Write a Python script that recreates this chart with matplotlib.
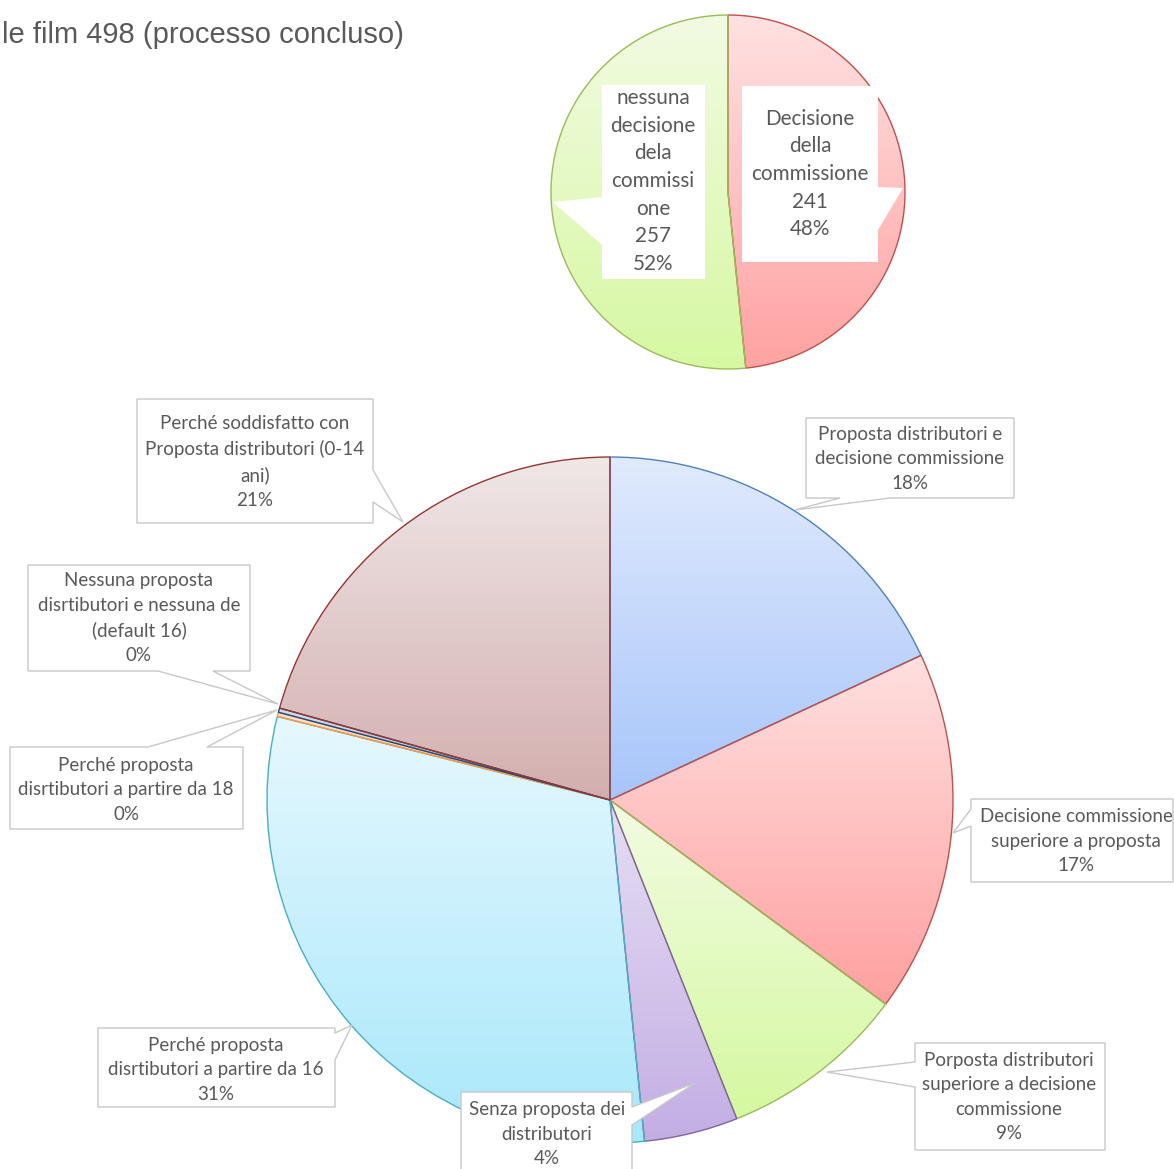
import numpy as np
import matplotlib.pyplot as plt
from matplotlib.colors import LinearSegmentedColormap
from matplotlib.patches import Polygon

# dati
titolo = "le film 498 (processo concluso)"

top_labels = ["Decisione\ndella\ncommissione", "nessuna\ndecisione\ndela\ncommissi\none"]
top_values = [241, 257]

bottom_labels = [
    "Proposta distributori e\ndecisione commissione",
    "Decisione commissione\nsuperiore a proposta",
    "Porposta distributori\nsuperiore a decisione\ncommissione",
    "Senza proposta dei\ndistributori",
    "Perché proposta\ndisrtibutori a partire da 16",
    "Perché proposta\ndisrtibutori a partire da 18",
    "Nessuna proposta\ndisrtibutori e nessuna de\n(default 16)",
    "Perché soddisfatto con\nProposta distributori (0-14\nani)",
]
bottom_values = [90, 85, 44, 22, 152, 1, 1, 103]

# colori (chiaro in alto, scuro in basso, bordo)
top_colors = [("#FFE1E1", "#FFA2A2", "#C0504D"), ("#F2FBE2", "#D6F8A2", "#9BBB59")]
bottom_colors = [
    ("#E0EAFD", "#A7C5FA", "#4F81BD"),
    ("#FFE0E0", "#FFA0A0", "#C0504D"),
    ("#F2FCE2", "#D5F8A0", "#9BBB59"),
    ("#E6DEF4", "#C3AEE4", "#8064A2"),
    ("#E6F8FE", "#A8E8FB", "#4BACC6"),
    ("#FDE3CC", "#F9B98A", "#F79646"),
    ("#D5DDEA", "#9CB0CC", "#1F497D"),
    ("#F0E7E7", "#D3AEAE", "#943634"),
]

W, H = 1174, 1169
fig = plt.figure(figsize=(W / 100, H / 100), dpi=100)
ax = fig.add_axes([0, 0, 1, 1])


def fy(y):
    return H - y


def gradient_fill(wedges, colors):
    for w, (c_top, c_bot, c_edge) in zip(wedges, colors):
        bb = w.get_path().get_extents()
        cmap = LinearSegmentedColormap.from_list("g", [c_bot, c_top])
        grad = np.linspace(0, 1, 256).reshape(-1, 1)
        im = ax.imshow(grad, cmap=cmap, origin="lower", aspect="auto",
                       extent=[bb.x0, bb.x1, bb.y0, bb.y1], zorder=1)
        im.set_clip_path(w)
        w.set_facecolor("none")
        w.set_edgecolor(c_edge)
        w.set_linewidth(1.0)
        w.set_zorder(2)


wt, _ = ax.pie(top_values, startangle=90, counterclock=False,
               center=(728, fy(192)), radius=177)
gradient_fill(wt, top_colors)

wb, _ = ax.pie(bottom_values, startangle=90, counterclock=False,
               center=(610, fy(800)), radius=343)
gradient_fill(wb, bottom_colors)


def callout(box, side, base, tip, text, tc, edge="#C8C8C8", fs=13.5, ls=1.53):
    x0, y0, x1, y1 = box
    b0, b1 = sorted(base)
    pts = [(x0, y0)]
    if side == "top":
        pts += [(b0, y0), tip, (b1, y0)]
    pts.append((x1, y0))
    if side == "right":
        pts += [(x1, b0), tip, (x1, b1)]
    pts.append((x1, y1))
    if side == "bottom":
        pts += [(b1, y1), tip, (b0, y1)]
    pts.append((x0, y1))
    if side == "left":
        pts += [(x0, b1), tip, (x0, b0)]
    poly = Polygon([(x, fy(y)) for x, y in pts], closed=True, facecolor="white",
                   edgecolor=edge, linewidth=1.0, zorder=5)
    ax.add_patch(poly)
    ax.text(tc[0], fy(tc[1]), text, ha="center", va="center", fontsize=fs,
            family="Lato", color="#595959", linespacing=ls, zorder=6)


# etichette torta superiore
tot_top = sum(top_values)
callout((742, 86, 878, 262), "right", (187, 230), (903, 188),
        f"{top_labels[0]}\n{top_values[0]}\n{top_values[0] / tot_top * 100:.0f}%",
        (810, 174), edge="none", fs=14.9, ls=1.48)
callout((602, 85, 705, 279), "left", (197, 245), (553, 202),
        f"{top_labels[1]}\n{top_values[1]}\n{top_values[1] / tot_top * 100:.0f}%",
        (653, 181), edge="none", fs=14.9, ls=1.48)

# etichette torta inferiore
tot = sum(bottom_values)
pct = [f"{v / tot * 100:.0f}%" for v in bottom_values]
layout = [
    ((806, 418, 1014, 498), "bottom", (840, 890), (795, 510), (910, 459)),
    ((971, 799, 1173, 882), "left", (809, 826), (953, 833), (1076, 841)),
    ((915, 1043, 1105, 1150), "left", (1062, 1087), (827, 1072), (1009, 1097)),
    ((461, 1092, 632, 1185), "right", (1107, 1125), (695, 1083), (547, 1134)),
    ((98, 1028, 335, 1107), "right", (1033, 1060), (352, 1025), (216, 1070)),
    ((10, 747, 243, 829), "top", (148, 207), (277, 710), (126, 790)),
    ((28, 565, 250, 671), "bottom", (158, 213), (278, 704), (139, 618)),
    ((137, 399, 373, 523), "right", (470, 502), (403, 522), (255, 462)),
]
for lab, p, (box, side, base, tip, tc) in zip(bottom_labels, pct, layout):
    callout(box, side, base, tip, f"{lab}\n{p}", tc)

ax.text(2, fy(35), titolo, ha="left", va="center", fontsize=21,
        family="Liberation Sans", color="#595959")

ax.set_xlim(0, W)
ax.set_ylim(0, H)
ax.set_axis_off()
fig.savefig("out.png", dpi=100)
